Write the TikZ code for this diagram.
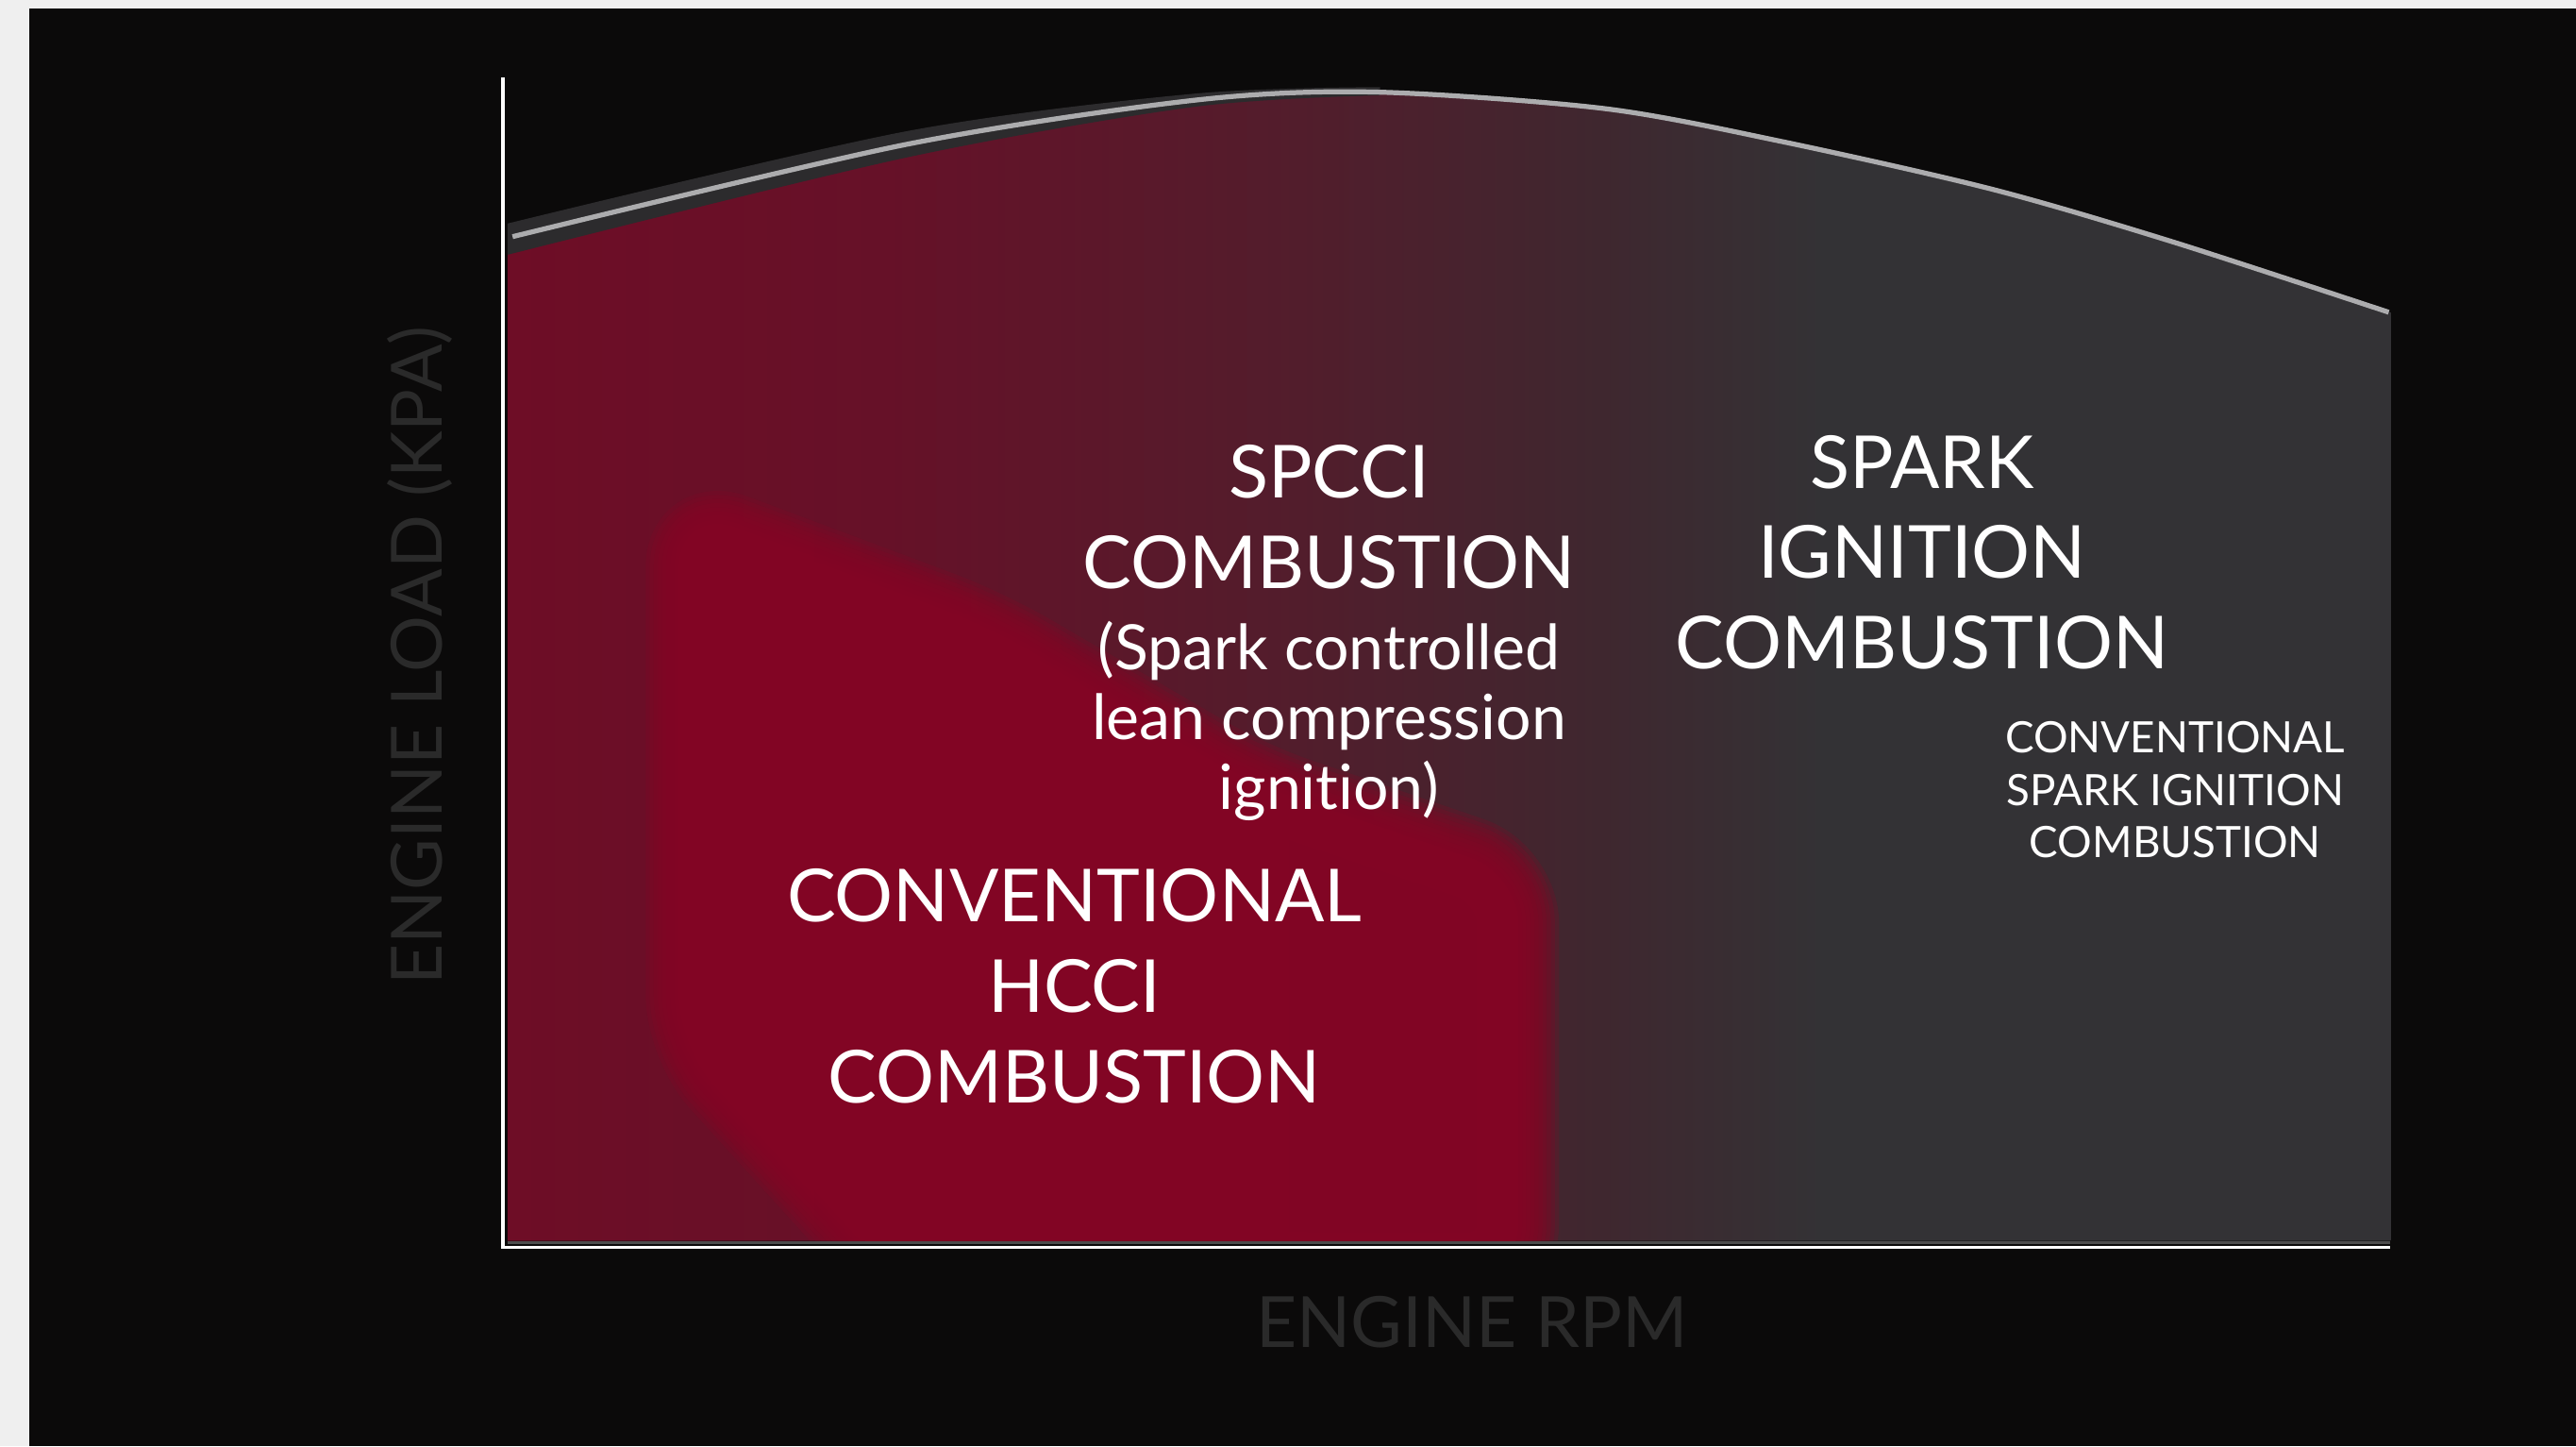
\documentclass[tikz,border=0pt]{standalone}
\usepackage{fontspec}
\setmainfont{Lato}[Ligatures={NoCommon,NoRare}]
\usetikzlibrary{positioning}
\definecolor{framegray}{RGB}{239,239,239}
\definecolor{bgblack}{RGB}{11,10,10}
\definecolor{redA}{RGB}{110,13,38}
\definecolor{redB}{RGB}{102,17,40}
\definecolor{redC}{RGB}{82,29,44}
\definecolor{redD}{RGB}{63,39,47}
\definecolor{grayA}{RGB}{51,50,53}
\definecolor{blobred}{RGB}{134,5,36}
\definecolor{bandgray}{RGB}{44,43,45}
\definecolor{linegray}{RGB}{172,172,174}
\definecolor{labelgray}{RGB}{42,42,42}
% the middle 50bp of the shading covers the path
\pgfdeclarehorizontalshading{loadshade}{100bp}{color(0bp)=(redA); color(25bp)=(redA); color(35bp)=(redB); color(46bp)=(redC); color(54bp)=(redD); color(60bp)=(grayA); color(100bp)=(grayA)}
\tikzset{
  every picture/.style = {
    x = 1pt,
    y = -1pt,
  }
  ,
  axis line/.style = {
    draw = white,
    line width = 2.2pt
  }
  , % big white region names
  title/.style = {
    text = white,
    align = center,
    inner sep = 0pt,
    font = \fontsize{44.5}{55}\selectfont
  }
  ,
  subtitle/.style = {
    text = white,
    align = center,
    inner sep = 0pt,
    font = \fontsize{38}{42.5}\selectfont
  }
  ,
  small title/.style = {
    text = white,
    align = center,
    inner sep = 0pt,
    font = \fontsize{26.3}{32}\selectfont
  }
  , % axis names
  axis label/.style = {
    text = labelgray,
    inner sep = 0pt,
    font = \fontsize{43}{50}\selectfont
  }
}
\begin{document}
\begin{tikzpicture}
		\useasboundingbox (0,0) rectangle (1568,880);
		\fill[framegray] (0,0) rectangle (1568,880);
		\fill[bgblack] (18,5) rectangle (1568,880);
		% operating region under the load curve
		\def\region{(309,755) -- (309,153) -- plot[smooth] coordinates {(309,153) (551,95) (727,64) (836,57) (976,66) (1084,86) (1212,115) (1322,147) (1455,190)} -- (1455,755) -- cycle}
		\fill[shading=loadshade] \region;
		\begin{scope}
			\clip \region;
			\foreach \w in {50,45,...,0}
				\path[fill=blobred, draw=blobred, line width=\w pt, opacity=0.24, line join=round, rounded corners=30pt]
					(418,635) -- (418,315) -- (600,383) -- (760,476) -- (924,532) -- (924,775) -- (545,775) -- cycle;
		\end{scope}
		\fill[bandgray] plot[smooth] coordinates {(309,136) (551,80) (727,57) (840,53)} -- plot[smooth] coordinates {(840,58) (727,65) (551,96) (309,155)} -- cycle;
		\draw[linegray, line width=3pt] plot[smooth] coordinates {(312,144) (551,88) (727,61) (836,56) (976,66) (1084,86) (1212,115) (1322,147) (1454,190)};
		\draw[black!70, line width=1.5pt] (309,756) -- (1455,756);
		% axes
		\coordinate (ytop) at (306,47);
		\coordinate (origin) at (306,759);
		\coordinate (xend) at (1455,759);
		\draw[axis line] (ytop) -- (origin) -- (xend);
		% labels (base is the last line)
		\node[title, anchor=base] (spcci) at (809,358) {SPCCI\\COMBUSTION};
		\node[subtitle, anchor=north, below=19pt of spcci] (spccisub) {(Spark controlled\\lean compression\\ignition)};
		\node[title, anchor=base] (spark) at (1170,407) {SPARK\\IGNITION\\COMBUSTION};
		\node[small title, anchor=base] (convsi) at (1324,522) {CONVENTIONAL\\SPARK IGNITION\\COMBUSTION};
		\node[title, anchor=base] (hcci) at (654,671) {CONVENTIONAL\\HCCI\\COMBUSTION};
		\node[axis label, anchor=base] (rpm) at (896,820) {ENGINE RPM};
		\node[axis label, rotate=90, anchor=base] (load) at (269,399) {ENGINE LOAD (KPA)};
\end{tikzpicture}
\end{document}
